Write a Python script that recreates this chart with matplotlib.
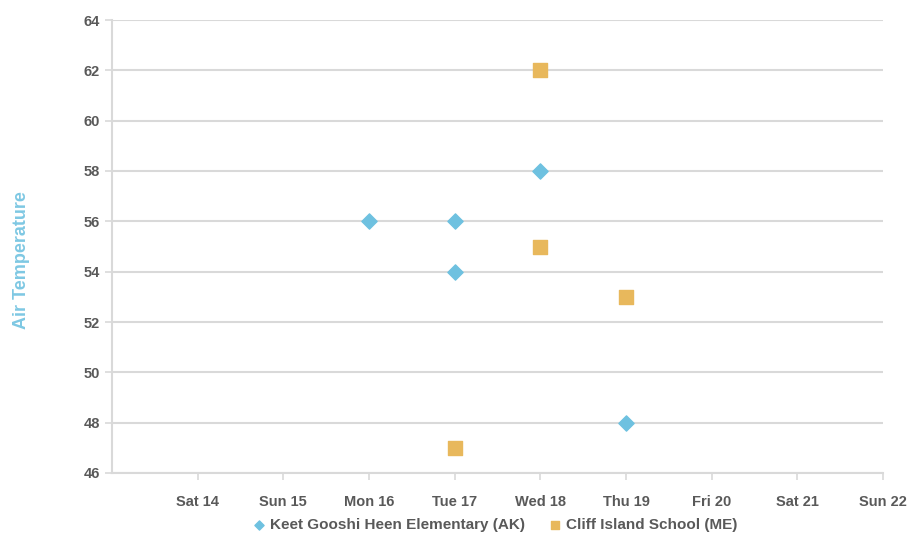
import matplotlib.pyplot as plt

# x axis days (day of month), labels for the ticks
day_ticks = [14, 15, 16, 17, 18, 19, 20, 21, 22]
day_labels = ["Sat 14", "Sun 15", "Mon 16", "Tue 17", "Wed 18",
              "Thu 19", "Fri 20", "Sat 21", "Sun 22"]

# Keet Gooshi Heen Elementary (AK)
keet_days = [16, 17, 17, 18, 19]
keet_temp = [56, 56, 54, 58, 48]

# Cliff Island School (ME)
cliff_days = [17, 18, 18, 19]
cliff_temp = [47, 62, 55, 53]

plt.rcParams['font.family'] = ['Liberation Sans', 'DejaVu Sans']

fig = plt.figure(figsize=(9.07, 5.36), dpi=100)
ax = fig.add_axes([112/907, 1 - 473/536, (883 - 112)/907, (473 - 20)/536])

ax.scatter(keet_days, keet_temp, marker='D', s=60, color='#6EC1E0',
           label='Keet Gooshi Heen Elementary (AK)', zorder=3)
ax.scatter(cliff_days, cliff_temp, marker='s', s=90, color='#E8B85C',
           label='Cliff Island School (ME)', zorder=3)

ax.set_xlim(13, 22)
ax.set_ylim(46, 64)
ax.set_yticks(range(46, 65, 2))
ax.set_xticks(day_ticks)
ax.set_xticklabels(day_labels)

ax.grid(axis='y', color='#d9d9d9', linewidth=1.5)
ax.set_axisbelow(True)
for side in ['top', 'right']:
    ax.spines[side].set_visible(False)
ax.spines['left'].set_color('#d9d9d9')
ax.spines['bottom'].set_color('#d9d9d9')
ax.spines['left'].set_linewidth(1.5)
ax.spines['bottom'].set_linewidth(1.5)
ax.tick_params(axis='both', colors='#d9d9d9', length=5, width=1.2,
               labelcolor='#595959', labelsize=10.5)
ax.tick_params(axis='x', pad=11)
for lab in ax.get_xticklabels() + ax.get_yticklabels():
    lab.set_fontweight('bold')

ax.set_ylabel('Air Temperature', color='#7EC8E3', fontsize=13,
              fontweight='bold')
ax.yaxis.set_label_coords(-0.107, 0.47)

leg = ax.legend(loc='upper center', bbox_to_anchor=(0.497, -0.07), ncol=2,
                frameon=False, handlelength=0.8, handletextpad=0.3,
                columnspacing=1.6, markerscale=0.6, fontsize=11)
for t in leg.get_texts():
    t.set_color('#595959')
    t.set_fontweight('bold')

fig.savefig('out.png', dpi=100)
